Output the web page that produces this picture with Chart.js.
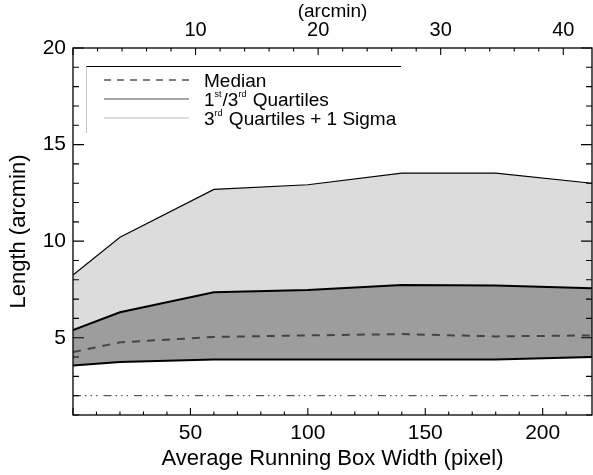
<!DOCTYPE html>
<html>
<head>
<meta charset="utf-8">
<script src="https://cdn.jsdelivr.net/npm/chart.js@4/dist/chart.umd.min.js"></script>
<style>
  html, body { margin: 0; padding: 0; background: #fff; }
  #wrap { width: 593px; height: 475px; }
</style>
</head>
<body>
<div id="wrap"><canvas id="boxChart" width="593" height="475"></canvas></div>
<script>
// Data
const boxWidth    = [0, 20, 60, 100, 140, 180, 221];      // running box width (pixel)
const sigmaUpper  = [8.25, 10.2, 12.68, 12.92, 13.52, 13.52, 13.0];
const quartile3   = [5.4, 6.32, 7.36, 7.47, 7.73, 7.7, 7.56];
const medianLen   = [4.26, 4.76, 5.04, 5.12, 5.19, 5.07, 5.12];
const quartile1   = [3.56, 3.75, 3.87, 3.87, 3.87, 3.87, 4.0];
const floorLevel  = [2, 2];
const floorX      = [0, 221];

const xRange = [0, 221];
const yRange = [1, 20];
const arcminPerPixel = 0.1916;   // top axis conversion

const xLabels  = [50, 100, 150, 200];
const x2Labels = [10, 20, 30, 40];
const yLabels  = [5, 10, 15, 20];

const FONT = '"Liberation Sans", Arial, Helvetica, sans-serif';

function pts(xs, ys){ return xs.map((x,i)=>({x:x, y:ys[i]})); }

// inward IDL-style ticks + frame
const frameTicks = {
  id: 'frameTicks',
  afterDatasetsDraw(chart){
    const {ctx, chartArea:a, scales} = chart;
    ctx.save();
    ctx.strokeStyle = '#000';
    ctx.lineWidth = 1.3;
    ctx.strokeRect(a.left, a.top, a.right-a.left, a.bottom-a.top);
    ctx.lineWidth = 1.1;
    ctx.beginPath();
    scales.x.ticks.forEach(t=>{
      if (Math.abs(t.value % 10) > 1e-6) return;
      const px = scales.x.getPixelForValue(t.value);
      const len = t.value % 50 === 0 ? 7 : 3.5;
      ctx.moveTo(px, a.bottom); ctx.lineTo(px, a.bottom-len);
    });
    scales.x2.ticks.forEach(t=>{
      const r = Math.abs(t.value % 2);
      if (r > 1e-6 && Math.abs(r-2) > 1e-6) return;
      const px = scales.x2.getPixelForValue(t.value);
      const len = Math.round(t.value) % 10 === 0 ? 7 : 3.5;
      ctx.moveTo(px, a.top); ctx.lineTo(px, a.top+len);
    });
    scales.y.ticks.forEach(t=>{
      const py = scales.y.getPixelForValue(t.value);
      const len = t.value % 5 === 0 ? 11 : 6;
      ctx.moveTo(a.left, py); ctx.lineTo(a.left+len, py);
      ctx.moveTo(a.right, py); ctx.lineTo(a.right-len, py);
    });
    ctx.stroke();
    ctx.restore();
  }
};

// legend box in upper left
const boxLegend = {
  id: 'boxLegend',
  afterDraw(chart){
    const ctx = chart.ctx;
    ctx.save();
    ctx.lineWidth = 1;
    ctx.strokeStyle = '#000';
    ctx.beginPath(); ctx.moveTo(86, 66.5); ctx.lineTo(401, 66.5); ctx.stroke();
    ctx.strokeStyle = '#c8c8c8';
    ctx.beginPath(); ctx.moveTo(86.5, 66.5); ctx.lineTo(86.5, 133); ctx.stroke();

    const rows = [
      {y:80, color:'#555', dash:[7,6], runs:[['Median']]},
      {y:99, color:'#888', dash:[], runs:[['1'],['st',1],['/3'],['rd',1],[' Quartiles']]},
      {y:118, color:'#cfcfcf', dash:[], runs:[['3'],['rd',1],[' Quartiles + 1 Sigma']]}
    ];
    rows.forEach(r=>{
      ctx.strokeStyle = r.color;
      ctx.lineWidth = 1.6;
      ctx.setLineDash(r.dash);
      ctx.beginPath(); ctx.moveTo(104, r.y); ctx.lineTo(189, r.y); ctx.stroke();
      ctx.setLineDash([]);
      ctx.fillStyle = '#000';
      ctx.textBaseline = 'alphabetic';
      let x = 204;
      r.runs.forEach(([txt, sup])=>{
        ctx.font = (sup ? '9px ' : '19px ') + FONT;
        ctx.fillText(txt, x, sup ? r.y - 2 : r.y + 7);
        x += ctx.measureText(txt).width + (sup ? 1 : 0);
      });
    });
    ctx.restore();
  }
};

new Chart(document.getElementById('boxChart'), {
  type: 'line',
  data: {
    datasets: [
      {
        label: '3rd Quartiles + 1 Sigma',
        data: pts(boxWidth, sigmaUpper),
        borderColor: '#000', borderWidth: 1.1,
        backgroundColor: '#dcdcdc',
        fill: {target: 1},
        pointRadius: 0, tension: 0
      },
      {
        label: '3rd Quartile',
        data: pts(boxWidth, quartile3),
        borderColor: '#000', borderWidth: 2,
        backgroundColor: '#9d9d9d',
        fill: {target: 3},
        pointRadius: 0, tension: 0
      },
      {
        label: 'Median',
        data: pts(boxWidth, medianLen),
        borderColor: '#444', borderWidth: 2,
        borderDash: [8, 7],
        fill: false, pointRadius: 0, tension: 0
      },
      {
        label: '1st Quartile',
        data: pts(boxWidth, quartile1),
        borderColor: '#000', borderWidth: 2,
        fill: false, pointRadius: 0, tension: 0
      },
      {
        label: 'floor',
        data: pts(floorX, floorLevel),
        borderColor: '#333', borderWidth: 1,
        borderDash: [8, 4, 1.5, 4, 1.5, 4, 1.5, 6],
        fill: false, pointRadius: 0, tension: 0
      }
    ]
  },
  options: {
    responsive: false,
    animation: false,
    devicePixelRatio: 1,
    layout: { padding: {left: 0, right: 1, top: 0, bottom: 0} },
    plugins: {
      legend: { display: false },
      tooltip: { enabled: false },
      filler: { drawTime: 'beforeDatasetsDraw' }
    },
    scales: {
      x: {
        type: 'linear', position: 'bottom',
        min: xRange[0], max: xRange[1],
        grid: { display: false, drawTicks: false },
        border: { display: false },
        ticks: {
          stepSize: 10, autoSkip: false, maxRotation: 0, padding: 6,
          color: '#000', font: { family: FONT, size: 21 },
          callback: v => xLabels.includes(v) ? String(v) : ''
        },
        title: {
          display: true, text: 'Average Running Box Width (pixel)',
          color: '#000', font: { family: FONT, size: 22 },
          padding: {top: 0, bottom: 3}
        },
        afterFit: s => { s.height = 60; s.paddingLeft = 0; s.paddingRight = 0; }
      },
      x2: {
        type: 'linear', position: 'top',
        min: xRange[0] * arcminPerPixel, max: xRange[1] * arcminPerPixel,
        grid: { display: false, drawTicks: false },
        border: { display: false },
        ticks: {
          stepSize: 2, autoSkip: false, maxRotation: 0, padding: 6,
          color: '#000', font: { family: FONT, size: 20 },
          callback: v => x2Labels.includes(Math.round(v * 1000) / 1000) ? String(Math.round(v)) : ''
        },
        title: {
          display: true, text: '(arcmin)',
          color: '#000', font: { family: FONT, size: 19 },
          padding: {top: 0, bottom: 0}
        },
        afterFit: s => { s.height = 48; s.paddingLeft = 0; s.paddingRight = 0; }
      },
      y: {
        type: 'linear', position: 'left',
        min: yRange[0], max: yRange[1],
        grid: { display: false, drawTicks: false },
        border: { display: false },
        ticks: {
          stepSize: 1, autoSkip: false, padding: 7,
          color: '#000', font: { family: FONT, size: 21 },
          callback: v => yLabels.includes(v) ? String(v) : ''
        },
        title: {
          display: true, text: 'Length (arcmin)',
          color: '#000', font: { family: FONT, size: 22 },
          padding: {top: 6, bottom: 0}
        },
        afterFit: s => { s.width = 73; s.paddingTop = 0; s.paddingBottom = 0; }
      }
    }
  },
  plugins: [frameTicks, boxLegend]
});
</script>
</body>
</html>
